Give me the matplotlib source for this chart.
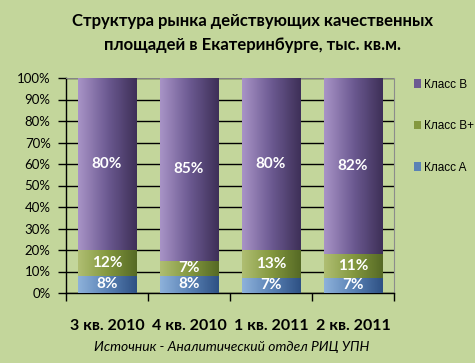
import matplotlib
matplotlib.use("Agg")
import matplotlib.pyplot as plt
import numpy as np
from matplotlib.colors import LinearSegmentedColormap
from matplotlib.patches import Patch

categories = ["3 кв. 2010", "4 кв. 2010", "1 кв. 2011", "2 кв. 2011"]
class_a = [8, 8, 7, 7]
class_bp = [12, 7, 13, 11]
class_b = [80, 85, 80, 82]
series_names = ["Класс A", "Класс B+", "Класс B"]
y_ticks = [0, 10, 20, 30, 40, 50, 60, 70, 80, 90, 100]

title = "Структура рынка действующих качественных\nплощадей в Екатеринбурге, тыс. кв.м."
source = "Источник - Аналитический отдел РИЦ УПН"

bg = "#C3D69B"
grads = {
    "Класс A": ("#8DB1DA", "#5A82B5", "#2E5184"),
    "Класс B+": ("#AFBE72", "#84983F", "#566A25"),
    "Класс B": ("#A893C6", "#6C5A92", "#3E3058"),
}

fig = plt.figure(figsize=(4.75, 3.63), dpi=100, facecolor=bg)
ax = fig.add_axes([66/475, 1-293/363, (394-66)/475, (293-78)/363])
ax.set_facecolor(bg)

x = np.arange(len(categories))
width = 0.71
bottoms = np.zeros(len(categories))
for name, vals in zip(series_names, [class_a, class_bp, class_b]):
    bars = ax.bar(x, vals, width, bottom=bottoms, facecolor="none",
                  edgecolor="none", zorder=3)
    cmap = LinearSegmentedColormap.from_list(name, grads[name])
    grad = np.linspace(0, 1, 64).reshape(1, -1)
    for rect, v, b in zip(bars, vals, bottoms):
        x0 = rect.get_x()
        x1 = x0 + rect.get_width()
        ax.imshow(grad, cmap=cmap, extent=[x0, x1, b, b + v], aspect="auto",
                  zorder=3, interpolation="bicubic")
        ax.text(x0 + rect.get_width()/2, b + v/2, f"{v}%", ha="center",
                va="center", color="white", fontsize=11, fontweight="bold",
                family="Lato", zorder=4)
    bottoms = bottoms + np.array(vals)

ax.set_xlim(-0.5, len(categories) - 0.5)
ax.set_ylim(0, 100)
ax.set_yticks(y_ticks)
ax.set_yticklabels([f"{t}%" for t in y_ticks], fontsize=9.5, family="Lato")
ax.yaxis.grid(True, color="black", linewidth=1.0, zorder=1)
ax.set_axisbelow(True)

ax.set_xticks(x)
ax.set_xticklabels(categories, fontsize=11.5, fontweight="bold", family="Lato")
ax.tick_params(axis="x", length=0, pad=19)
ax.set_xticks(np.arange(-0.5, len(categories)), minor=True)
ax.tick_params(axis="x", which="minor", length=6, width=1, color="black")
ax.tick_params(axis="y", length=6, width=1, color="black", pad=5)

for s in ["left", "bottom"]:
    ax.spines[s].set_color("black")
    ax.spines[s].set_linewidth(1.0)
ax.spines["right"].set_color("#8C8C8C")
ax.spines["top"].set_color("#A0A0A0")
ax.spines["top"].set_linewidth(0.6)

handles = [Patch(facecolor=grads[n][1], edgecolor="none") for n in reversed(series_names)]
leg = fig.legend(handles, list(reversed(series_names)), loc="upper left",
                 bbox_to_anchor=(403/475, 1-68/363), frameon=False,
                 handlelength=0.65, handleheight=0.75,
                 handletextpad=0.25, labelspacing=2.5,
                 prop={"family": "Liberation Sans", "size": 8.5})

fig.text(252/475, 1-33/363, title, ha="center", va="center", fontsize=12,
         fontweight="bold", family="Lato", linespacing=1.55)
fig.text(232/475, 1-347/363, source, ha="center", va="center", fontsize=10,
         style="italic", family="Lato")

fig.savefig("out.png", dpi=100, facecolor=bg)
